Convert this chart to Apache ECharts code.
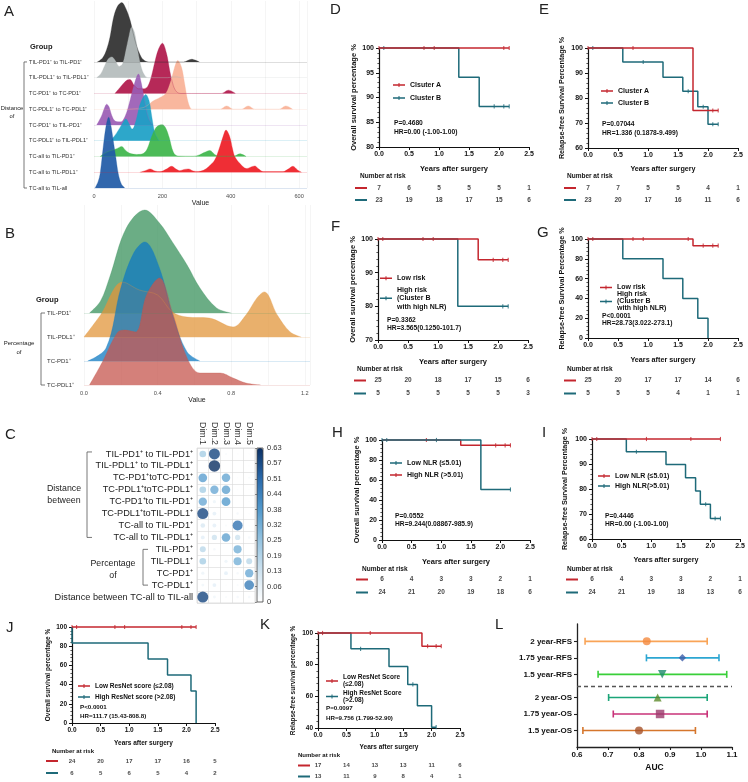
<!DOCTYPE html>
<html>
<head>
<meta charset="utf-8">
<script src="https://cdn.jsdelivr.net/npm/echarts@6.0.0/dist/echarts.min.js"></script>
<style>
  html, body { margin: 0; padding: 0; background: #fff; }
  #chart { width: 748px; height: 782px; }
</style>
</head>
<body>
<div id="chart"></div>
<script>
// ---------- A: distance ridgelines, [value, height in row units] ----------
const aGroups = ['TC-all to TIL-all', 'TC-all to TIL-PDL1⁺', 'TC-all to TIL-PD1⁺', 'TC-PDL1⁺ to TIL-PDL1⁺',
  'TC-PD1⁺ to TIL-PD1⁺', 'TC-PDL1⁺ to TC-PDL1⁺', 'TC-PD1⁺ to TC-PD1⁺', 'TIL-PDL1⁺ to TIL-PDL1⁺', 'TIL-PD1⁺ to TIL-PD1⁺'];
const aTicks = [0, 200, 400, 600];
const aTickLabels = ['0', '200', '400', '600'];
const aTcAllTilAll = [[3,0],[12,0.4],[18,0.91],[27,2.6],[35,3.9],[43,4.49],[50,3.9],[56,3.04],[64,1.9],[71,0.91],[80,0.25],[90,0]];
const aTcAllTilPdl1 = [[134,0],[150,0.1],[164,0.21],[178,0.08],[193,0.04],[212,0.2],[227,0.38],[240,0.2],[251,0.1],[264,0.18],[276,0.21],[290,0.08],[305,0.05],[320,0.12],[335,0.35],[353,0.77],[368,1.62],[378,2.3],[386,2.68],[397,2.26],[405,1.5],[412,0.98],[427,0.55],[446,0.23],[458,0.32],[470,0.4],[482,0.2],[495,0.04],[553,0.04],[568,0.2],[582,0.38],[595,0.15],[607,0]];
const aTcAllTilPd1 = [[18,0],[35,0.25],[50,0.38],[66,0.49],[81,0.64],[92,0.4],[105,0.2],[125,0.13],[145,0.2],[156,0.5],[168,1.23],[180,1.8],[190,1.98],[200,2.02],[210,1.8],[220,1.2],[232,0.28],[245,0.03],[290,0.02],[308,0.1],[322,0.25],[339,0.38],[352,0.15],[365,0.02],[408,0.02],[427,0.17],[445,0]];
const aTcPdl1TilPdl1 = [[47,0],[60,0.3],[75,0.8],[86,1.2],[93,1.38],[102,1.1],[112,0.74],[122,1.2],[133,2.2],[144,2.77],[151,2.94],[161,2.55],[170,1.4],[178,0.5],[190,0]];
const aTcPd1TilPd1 = [[8,0],[22,0.57],[30,1.05],[37,1.32],[44,1.15],[52,0.6],[62,0.25],[78,0.2],[92,0.6],[105,1.53],[118,2.6],[130,3.23],[139,2.6],[150,1.3],[160,0.4],[172,0]];
const aTcPdl1TcPdl1 = [[95,0],[120,0.04],[144,0.1],[160,0.3],[173,0.53],[193,0.74],[210,1.0],[225,1.8],[235,2.6],[245,3.09],[256,2.66],[266,1.5],[276,0.4],[288,0],[368,0],[388,0.21],[408,0],[431,0],[451,0.21],[471,0],[541,0],[561,0.21],[581,0]];
const aTcPd1TcPd1 = [[61,0],[75,0.35],[86,0.64],[97,0.85],[105,0.89],[118,0.5],[130,0.3],[145,0.3],[157,0.45],[168,1.1],[178,2.0],[188,2.77],[200,3.19],[212,2.55],[222,1.4],[232,0.5],[242,0.1],[255,0],[372,0],[393,0.21],[414,0]];
const aTilPdl1TilPdl1 = [[8,0],[20,0.25],[30,0.7],[42,1.2],[52,1.32],[62,1.1],[74,0.72],[84,0.9],[95,1.9],[103,2.7],[110,3.21],[118,2.9],[128,1.7],[139,0.6],[150,0.1],[160,0],[215,0],[235,0.1],[255,0]];
const aTilPd1TilPd1 = [[10,0],[25,0.25],[37,0.79],[47,1.6],[56,2.7],[68,3.5],[81,3.77],[93,3.4],[105,2.7],[115,1.8],[125,1.0],[135,0.45],[144,0.15],[160,0],[262,0],[285,0.17],[308,0]];
const aRidges = [aTcAllTilAll, aTcAllTilPdl1, aTcAllTilPd1, aTcPdl1TilPdl1, aTcPd1TilPd1, aTcPdl1TcPdl1, aTcPd1TcPd1, aTilPdl1TilPdl1, aTilPd1TilPd1];

// ---------- B: percentage ridgelines ----------
const bGroups = ['TC-PDL1⁺', 'TC-PD1⁺', 'TIL-PDL1⁺', 'TIL-PD1⁺'];
const bTicks = [0, 0.4, 0.8, 1.2];
const bTickLabels = ['0.0', '0.4', '0.8', '1.2'];
const bTcPdl1 = [[0.03,0],[0.1,0.96],[0.18,2.17],[0.22,2.29],[0.28,2.21],[0.34,3.75],[0.41,4.46],[0.48,3.04],[0.56,1.13],[0.63,0.5],[0.74,0.5],[0.81,0.29],[0.88,0.08],[0.96,0]];
const bTcPd1 = [[0.02,0],[0.12,0.54],[0.2,3.04],[0.27,4.5],[0.33,4.96],[0.41,3.88],[0.48,1.92],[0.56,0.38],[0.63,0]];
const bTilPdl1 = [[0,0],[0.09,0.92],[0.21,2.29],[0.3,1.96],[0.4,1.75],[0.48,1.04],[0.56,0.83],[0.68,0.79],[0.81,0.42],[0.88,0.92],[0.94,1.63],[0.98,1.88],[1.05,0.92],[1.12,0.21],[1.18,0]];
const bTilPd1 = [[0.03,0],[0.09,0.5],[0.14,1.5],[0.23,3.54],[0.33,4.29],[0.41,3.75],[0.48,2.96],[0.56,2.0],[0.63,1.04],[0.72,0.21],[0.8,0]];
const bRidges = [bTcPdl1, bTcPd1, bTilPdl1, bTilPd1];

// ---------- C: dimension contributions ----------
const cDims = ['Dim.1', 'Dim.2', 'Dim.3', 'Dim.4', 'Dim.5'];
const cRows = ['TIL-PD1⁺ to TIL-PD1⁺', 'TIL-PDL1⁺ to TIL-PDL1⁺', 'TC-PD1⁺toTC-PD1⁺', 'TC-PDL1⁺toTC-PDL1⁺',
  'TC-PD1⁺to TIL-PD1⁺', 'TC-PDL1⁺toTIL-PDL1⁺', 'TC-all to TIL-PD1⁺', 'TC-all to TIL-PDL1⁺',
  'TIL-PD1⁺', 'TIL-PDL1⁺', 'TC-PD1⁺', 'TC-PDL1⁺', 'Distance between TC-all to TIL-all'];
const cValues = [
  [0.21, 0.58, 0.02, 0.01, 0.01],
  [0.00, 0.63, 0.00, 0.00, 0.01],
  [0.36, 0.00, 0.34, 0.01, 0.02],
  [0.21, 0.33, 0.35, 0.01, 0.01],
  [0.33, 0.05, 0.37, 0.00, 0.01],
  [0.58, 0.07, 0.00, 0.03, 0.01],
  [0.10, 0.07, 0.02, 0.48, 0.01],
  [0.07, 0.13, 0.35, 0.13, 0.03],
  [0.17, 0.03, 0.00, 0.31, 0.00],
  [0.21, 0.00, 0.05, 0.31, 0.17],
  [0.05, 0.00, 0.07, 0.03, 0.33],
  [0.04, 0.07, 0.01, 0.02, 0.45],
  [0.58, 0.04, 0.02, 0.03, 0.03]
];
const cbarTicks = ['0', '0.06', '0.13', '0.19', '0.25', '0.32', '0.38', '0.44', '0.51', '0.57', '0.63'];

// ---------- D-K: Kaplan-Meier steps [years, %], censor times, numbers at risk ----------
const riskTimes = [0, 0.5, 1, 1.5, 2, 2.5];

const dRedSteps = [[0,100],[2.17,100]];
const dRedCens = [0, 0.75, 0.92, 2.08, 2.17];
const dTealSteps = [[0,100],[1.33,94.1],[1.67,88.2],[2.17,88.2]];
const dTealCens = [0.08, 1.92, 2.08, 2.17];
const dRiskRed = [7, 6, 5, 5, 5, 1];
const dRiskTeal = [23, 19, 18, 17, 15, 6];

const eRedSteps = [[0,100],[1.75,75],[2.17,75]];
const eRedCens = [0, 0.75, 2.08, 2.17];
const eTealSteps = [[0,100],[0.58,94.4],[1.25,88.3],[1.58,82.7],[1.83,76.5],[2.0,69.5],[2.17,69.5]];
const eTealCens = [0.08, 0.92, 1.67, 1.92, 2.08, 2.17];
const eRiskRed = [7, 7, 5, 5, 4, 1];
const eRiskTeal = [23, 20, 17, 16, 11, 6];

const fRedSteps = [[0,100],[1.67,93.8],[2.17,93.8]];
const fRedCens = [0, 0.08, 0.75, 0.92, 1.92, 2.08, 2.17];
const fTealSteps = [[0,100],[1.33,80],[2.17,80]];
const fTealCens = [2.08, 2.17];
const fRiskRed = [25, 20, 18, 17, 15, 6];
const fRiskTeal = [5, 5, 5, 5, 5, 3];

const gRedSteps = [[0,100],[1.75,93.3],[2.17,93.3]];
const gRedCens = [0, 0.08, 0.75, 0.92, 1.67, 1.92, 2.08, 2.17];
const gTealSteps = [[0,100],[0.58,80],[1.25,60],[1.58,40],[1.83,20],[2.0,0]];
const gTealCens = [];
const gRiskRed = [25, 20, 17, 17, 14, 6];
const gRiskTeal = [5, 5, 5, 4, 1, 1];

const hRedSteps = [[0,100],[1.33,94.7],[2.17,94.7]];
const hRedCens = [0.75, 1.92, 2.08, 2.17];
const hTealSteps = [[0,100],[1.67,50.5],[2.17,50.5]];
const hTealCens = [0, 0.08, 0.92, 2.17];
const hRiskRed = [6, 4, 3, 3, 2, 1];
const hRiskTeal = [24, 21, 20, 19, 18, 6];

const iRedSteps = [[0,100],[2.17,100]];
const iRedCens = [0, 0.08, 0.92, 1.67, 2.17];
const iTealSteps = [[0,100],[0.58,94.9],[1.25,89.8],[1.58,84.5],[1.75,79.2],[1.83,73.9],[2.0,68.2],[2.17,68.2]];
const iTealCens = [0.75, 1.92, 2.08, 2.17];
const iRiskRed = [6, 4, 3, 3, 2, 1];
const iRiskTeal = [24, 21, 19, 18, 13, 6];

const jRedSteps = [[0,100],[2.17,100]];
const jRedCens = [0, 0.08, 0.75, 0.92, 1.92, 2.08, 2.17];
const jTealSteps = [[0,100],[0,83.3],[1.33,66.7],[1.67,50],[2.08,33.3],[2.17,0]];
const jTealCens = [];
const jRiskRed = [24, 20, 17, 17, 16, 5];
const jRiskTeal = [6, 5, 6, 5, 4, 2];

const kRedSteps = [[0,100],[1.83,91.7],[2.17,91.7]];
const kRedCens = [0, 0.08, 0.92, 1.93, 2.08, 2.17];
const kTealSteps = [[0,100],[0.58,90],[1.25,78.8],[1.58,67.5],[1.75,54],[2.0,40.5],[2.08,40.5]];
const kTealCens = [0.75, 1.67, 2.08];
const kRiskRed = [17, 14, 13, 13, 11, 6];
const kRiskTeal = [13, 11, 9, 8, 4, 1];

// ---------- L: AUC with 95% CI (bottom to top) ----------
const lLabels = ['1.5 year-OS', '1.75 year-OS', '2 year-OS', '1.5 year-RFS', '1.75 year-RFS', '2 year-RFS'];
const lAuc = [0.800, 0.868, 0.860, 0.875, 0.940, 0.825];
const lLower = [0.619, 0.717, 0.702, 0.668, 0.824, 0.626];
const lUpper = [0.982, 1.020, 1.020, 1.083, 1.058, 1.020];

// ---------- styles ----------
const FF = '"Liberation Sans", Arial, sans-serif';
const RED = '#c4262e';
const TEAL = '#1e6a79';
const LEG_ICON = 'path://M0,2.4H24V5.6H0Z M11,0H13V8H11Z';
const aColors = ['#1f5aa6', '#ee1c24', '#3db54a', '#1b9fc6', '#9a5cb4', '#f9b196', '#b0174a', '#b4bcbc', '#2e2e2e'];
const bColors = ['#c6564e', '#0f7ac1', '#e1953b', '#39915c'];
const lLineColors = ['#d5762c', '#c93279', '#1ba578', '#39cf39', '#2ca6d2', '#f9a457'];
const lMarkColors = ['#a6522a', '#9b3a6b', '#5d8a2b', '#1e8a6c', '#3d5ea9', '#f48a3e'];
const lSymbols = ['circle', 'rect', 'triangle', 'triangle', 'diamond', 'circle'];
const lRotate = [0, 0, 0, 180, 0, 0];
const lSizes = [8, 8.5, 8, 8.5, 7.5, 8];

const grids = [], xAxes = [], yAxes = [], series = [], legends = [];
const legendText = {};
const kmTexts = [];

function survAt(steps, t) {
  let s = steps[0][1];
  steps.forEach(p => { if (p[0] <= t + 1e-9) s = p[1]; });
  return s;
}

function ridgePanel(p) {
  const gi = grids.length;
  grids.push({left: p.left, top: p.top, width: p.width, height: p.height, outerBoundsMode: 'none'});
  xAxes.push({
    gridIndex: gi, type: 'value', min: 0, max: p.xMax, interval: p.xStep,
    axisLine: {show: false}, axisTick: {show: false},
    splitLine: {show: true, lineStyle: {color: '#efefef', width: 0.6}},
    axisLabel: {fontSize: 5.6, color: '#4d4d4d', margin: 5, fontFamily: FF,
      formatter: v => { const k = p.ticks.findIndex(t => Math.abs(t - v) < 1e-6); return k < 0 ? '' : p.tickLabels[k]; }},
    name: 'Value', nameLocation: 'middle', nameGap: p.nameGap,
    nameTextStyle: {fontSize: 7, color: '#222', fontFamily: FF}
  });
  yAxes.push({
    gridIndex: gi, type: 'value', min: 0, max: p.yMax, interval: 1,
    axisLine: {show: false}, axisTick: {show: false}, splitLine: {show: false},
    axisLabel: {align: 'left', margin: p.labelMargin, fontSize: p.labelSize, color: '#333', fontFamily: FF,
      formatter: v => p.groups[v] || ''}
  });
  for (let r = p.ridges.length - 1; r >= 0; r--) {
    const col = p.colors[r];
    series.push({
      type: 'line', xAxisIndex: gi, yAxisIndex: gi, smooth: 0.35, symbol: 'none', silent: true,
      data: p.ridges[r].map(d => [d[0], r + d[1]]),
      lineStyle: {color: col, width: 0.5, opacity: 0.6},
      areaStyle: {color: col, opacity: p.opacity, origin: r},
      markLine: {silent: true, symbol: 'none', label: {show: false},
        lineStyle: {color: col, opacity: 0.2, width: 0.8, type: 'solid'}, data: [{yAxis: r}]}
    });
  }
}

function kmPanel(p) {
  const fs = p.font;
  const gi = grids.length;
  const nameStyle = {fontSize: p.nameSize, fontWeight: 'bold', color: '#111', fontFamily: FF};
  grids.push({left: p.x, top: p.y, width: p.w, height: p.h, outerBoundsMode: 'none'});
  xAxes.push({
    gridIndex: gi, type: 'value', min: 0, max: 2.5, interval: 0.5,
    name: 'Years after surgery', nameLocation: 'middle', nameGap: p.xNameGap, nameTextStyle: nameStyle,
    axisLine: {show: true, lineStyle: {color: '#111', width: 1.2}},
    axisTick: {show: true, length: 3, lineStyle: {color: '#111', width: 1}},
    axisLabel: {fontSize: fs, fontWeight: 'bold', color: '#111', margin: 4, fontFamily: FF, formatter: v => v.toFixed(1)},
    splitLine: {show: false}
  });
  yAxes.push({
    gridIndex: gi, type: 'value', min: p.yMin, max: 100, interval: p.yStep,
    name: p.yName, nameLocation: 'middle', nameRotate: 90, nameGap: p.yNameGap, nameTextStyle: nameStyle,
    axisLine: {show: true, lineStyle: {color: '#111', width: 1.2}},
    axisTick: {show: true, length: 3, lineStyle: {color: '#111', width: 1}},
    minorTick: {show: true, splitNumber: 5, length: 1.6, lineStyle: {color: '#111', width: 0.7}},
    axisLabel: {fontSize: fs, fontWeight: 'bold', color: '#111', margin: 5, fontFamily: FF},
    splitLine: {show: false}, minorSplitLine: {show: false}
  });
  const legendData = [];
  p.curves.forEach((c, k) => {
    const id = p.id + k;
    legendText[id] = c.label;
    legendData[c.order] = id;
    series.push({
      name: id, type: 'line', xAxisIndex: gi, yAxisIndex: gi, step: 'end', symbol: 'none',
      clip: false, silent: true, data: c.steps,
      lineStyle: {color: c.color, width: 1.5}, itemStyle: {color: c.color}
    });
    series.push({
      type: 'scatter', xAxisIndex: gi, yAxisIndex: gi, symbol: 'rect', symbolSize: [1.1, 4.2],
      clip: false, silent: true, itemStyle: {color: c.color},
      data: c.cens.map(t => [t, survAt(c.steps, t)])
    });
  });
  legends.push({
    left: p.leg.x, top: p.leg.y, orient: 'vertical', padding: 0, itemGap: p.leg.gap,
    itemWidth: 12, itemHeight: 6, icon: LEG_ICON, selectedMode: false, data: legendData,
    formatter: name => legendText[name],
    textStyle: {fontSize: fs, fontWeight: 'bold', color: '#111', fontFamily: FF, lineHeight: p.leg.lh}
  });
  // numbers at risk, sharing the time scale
  const ri = grids.length;
  grids.push({left: p.x, top: p.risk.top, width: p.w, height: p.risk.h, outerBoundsMode: 'none'});
  xAxes.push({gridIndex: ri, type: 'value', min: 0, max: 2.5, show: false});
  yAxes.push({
    gridIndex: ri, type: 'category', inverse: true, data: ['r0', 'r1'],
    axisLine: {show: false}, axisTick: {show: false}, splitLine: {show: false},
    axisLabel: {margin: p.risk.dash, interval: 0, formatter: (v, i) => '{d' + i + '| }',
      rich: {
        d0: {backgroundColor: RED, width: 12, height: 2, lineHeight: 2, fontSize: 1},
        d1: {backgroundColor: TEAL, width: 12, height: 2, lineHeight: 2, fontSize: 1}
      }}
  });
  p.risk.rows.forEach((arr, row) => {
    series.push({
      type: 'scatter', xAxisIndex: ri, yAxisIndex: ri, symbolSize: 1, silent: true,
      itemStyle: {color: 'rgba(0,0,0,0)'},
      data: riskTimes.map((t, k) => [t, row, arr[k]]),
      label: {show: true, position: 'inside', formatter: q => String(q.value[2]),
        fontSize: p.riskFont, fontWeight: 'bold', color: '#111', fontFamily: FF}
    });
  });
  kmTexts.push({x: p.nar[0], y: p.nar[1], text: 'Number at risk', size: p.riskFont});
  p.stats.forEach(s => kmTexts.push({x: s[0], y: s[1], text: s[2], size: fs - 0.3}));
}

// A and B
ridgePanel({left: 94, top: 1, width: 213, height: 187, xMax: 623, xStep: 100, yMax: 11.87,
  ticks: aTicks, tickLabels: aTickLabels, groups: aGroups, ridges: aRidges, colors: aColors,
  opacity: 0.92, labelMargin: 65, labelSize: 5.6, nameGap: 10});
ridgePanel({left: 84, top: 205, width: 226, height: 180, xMax: 1.228, xStep: 0.2, yMax: 7.5,
  ticks: bTicks, tickLabels: bTickLabels, groups: bGroups, ridges: bRidges, colors: bColors,
  opacity: 0.75, labelMargin: 37, labelSize: 6, nameGap: 9});

// C: dot matrix (grid 2) and colour-bar scale (grid 3)
grids.push({left: 197, top: 448, width: 58, height: 155, show: true, borderColor: '#cfcfcf', borderWidth: 0.6, outerBoundsMode: 'none'});
xAxes.push({gridIndex: 2, type: 'category', data: cDims, position: 'top',
  axisLine: {show: false}, axisTick: {show: false},
  splitLine: {show: true, lineStyle: {color: '#d9d9d9', width: 0.6}},
  axisLabel: {rotate: 90, interval: 0, fontSize: 8.8, color: '#333', margin: 3, fontFamily: FF}});
yAxes.push({gridIndex: 2, type: 'category', data: cRows, inverse: true,
  axisLine: {show: false}, axisTick: {show: false},
  splitLine: {show: true, lineStyle: {color: '#d9d9d9', width: 0.6}},
  axisLabel: {interval: 0, fontSize: 9.2, color: '#222', margin: 4, fontFamily: FF}});
const cData = [];
cValues.forEach((row, r) => row.forEach((v, c) => { if (v > 0) cData.push([c, r, v]); }));
const cSeriesIndex = series.length;
series.push({type: 'scatter', xAxisIndex: 2, yAxisIndex: 2, silent: true, data: cData,
  symbolSize: d => 11.5 * Math.sqrt(d[2] / 0.63)});

grids.push({left: 257, top: 448, width: 6, height: 154, show: true, borderColor: '#444', borderWidth: 0.8,
  backgroundColor: 'transparent', z: 10, outerBoundsMode: 'none'});
xAxes.push({gridIndex: 3, type: 'value', min: 0, max: 1, show: false});
yAxes.push({gridIndex: 3, type: 'value', min: 0, max: 0.63, interval: 0.063, position: 'right',
  axisLine: {show: false}, splitLine: {show: false},
  axisTick: {show: true, inside: true, length: 2, lineStyle: {color: '#444', width: 0.6}},
  axisLabel: {fontSize: 7.5, color: '#333', margin: 4, fontFamily: FF,
    formatter: v => cbarTicks[Math.round(v / 0.063)] || ''}});

// D-K
kmPanel({id: 'D', x: 379, y: 48, w: 150, h: 99, yMin: 80, yStep: 5, yName: 'Overall survival percentage %',
  nameSize: 7.5, font: 7, yNameGap: 20, xNameGap: 18,
  curves: [
    {steps: dTealSteps, cens: dTealCens, color: TEAL, label: 'Cluster B', order: 1},
    {steps: dRedSteps, cens: dRedCens, color: RED, label: 'Clsuter A', order: 0}],
  leg: {x: 393, y: 81, gap: 5, lh: 8},
  risk: {top: 182, h: 24, dash: 12, rows: [dRiskRed, dRiskTeal]}, riskFont: 6.5,
  nar: [360, 176], stats: [[394, 123, 'P=0.4680'], [394, 132, 'HR=0.00 (-1.00-1.00)']]});

kmPanel({id: 'E', x: 588, y: 48, w: 150, h: 100, yMin: 60, yStep: 10, yName: 'Relapse-free Survival Percentage %',
  nameSize: 7.2, font: 7, yNameGap: 22, xNameGap: 18,
  curves: [
    {steps: eTealSteps, cens: eTealCens, color: TEAL, label: 'Cluster B', order: 1},
    {steps: eRedSteps, cens: eRedCens, color: RED, label: 'Cluster A', order: 0}],
  leg: {x: 601, y: 87, gap: 4, lh: 8},
  risk: {top: 182, h: 24, dash: 12, rows: [eRiskRed, eRiskTeal]}, riskFont: 6.5,
  nar: [567, 176], stats: [[602, 124, 'P=0.07044'], [602, 133, 'HR=1.336 (0.1878-9.499)']]});

kmPanel({id: 'F', x: 378, y: 239, w: 150, h: 101, yMin: 70, yStep: 10, yName: 'Overall survival percentage %',
  nameSize: 7.5, font: 7, yNameGap: 19, xNameGap: 18,
  curves: [
    {steps: fTealSteps, cens: fTealCens, color: TEAL, label: 'High risk\n(Cluster B\nwith high NLR)', order: 1},
    {steps: fRedSteps, cens: fRedCens, color: RED, label: 'Low risk', order: 0}],
  leg: {x: 380, y: 274, gap: 3, lh: 8.5},
  risk: {top: 374, h: 26, dash: 12, rows: [fRiskRed, fRiskTeal]}, riskFont: 6.5,
  nar: [357, 369], stats: [[387, 320, 'P=0.3362'], [387, 328, 'HR=3.565(0.1250-101.7)']]});

kmPanel({id: 'G', x: 588, y: 239, w: 150, h: 99, yMin: 0, yStep: 20, yName: 'Relapse-free Survival Percentage %',
  nameSize: 7.2, font: 7, yNameGap: 22, xNameGap: 19,
  curves: [
    {steps: gTealSteps, cens: gTealCens, color: TEAL, label: 'High risk\n(Cluster B\nwith high NLR)', order: 1},
    {steps: gRedSteps, cens: gRedCens, color: RED, label: 'Low risk', order: 0}],
  leg: {x: 600, y: 284, gap: 0, lh: 7},
  risk: {top: 374, h: 26, dash: 12, rows: [gRiskRed, gRiskTeal]}, riskFont: 6.5,
  nar: [567, 369], stats: [[602, 316, 'P<0.0001'], [602, 323, 'HR=28.73(3.022-273.1)']]});

kmPanel({id: 'H', x: 382, y: 440, w: 148, h: 100, yMin: 0, yStep: 20, yName: 'Overall survival percentage %',
  nameSize: 7.5, font: 7, yNameGap: 21, xNameGap: 18,
  curves: [
    {steps: hRedSteps, cens: hRedCens, color: RED, label: 'High NLR (>5.01)', order: 1},
    {steps: hTealSteps, cens: hTealCens, color: TEAL, label: 'Low NLR (≤5.01)', order: 0}],
  leg: {x: 390, y: 459, gap: 4, lh: 8},
  risk: {top: 573, h: 26, dash: 14, rows: [hRiskRed, hRiskTeal]}, riskFont: 6.5,
  nar: [362, 569], stats: [[395, 516, 'P=0.0552'], [395, 524, 'HR=9.244(0.08867-985.9)']]});

kmPanel({id: 'I', x: 592, y: 439, w: 148, h: 100, yMin: 60, yStep: 10, yName: 'Relapse-free Survival Percentage %',
  nameSize: 7.2, font: 7, yNameGap: 23, xNameGap: 18,
  curves: [
    {steps: iTealSteps, cens: iTealCens, color: TEAL, label: 'High NLR(>5.01)', order: 1},
    {steps: iRedSteps, cens: iRedCens, color: RED, label: 'Low NLR (≤5.01)', order: 0}],
  leg: {x: 598, y: 472, gap: 2, lh: 8},
  risk: {top: 573, h: 26, dash: 14, rows: [iRiskRed, iRiskTeal]}, riskFont: 6.5,
  nar: [567, 569], stats: [[605, 516, 'P=0.4446'], [605, 524, 'HR=0.00 (-1.00-1.00)']]});

kmPanel({id: 'J', x: 72, y: 627, w: 143, h: 96, yMin: 0, yStep: 20, yName: 'Overall survival percentage %',
  nameSize: 6.5, font: 6.5, yNameGap: 20, xNameGap: 17,
  curves: [
    {steps: jTealSteps, cens: jTealCens, color: TEAL, label: 'High ResNet score (>2.08)', order: 1},
    {steps: jRedSteps, cens: jRedCens, color: RED, label: 'Low ResNet score (≤2.08)', order: 0}],
  leg: {x: 78, y: 682, gap: 3, lh: 8},
  risk: {top: 755, h: 24, dash: 14, rows: [jRiskRed, jRiskTeal]}, riskFont: 6,
  nar: [52, 751], stats: [[80, 707, 'P<0.0001'], [80, 716, 'HR=111.7 (15.43-808.8)']]});

kmPanel({id: 'K', x: 318, y: 633, w: 142, h: 95, yMin: 40, yStep: 20, yName: 'Relapse-free survival percentage %',
  nameSize: 6.5, font: 6.5, yNameGap: 21, xNameGap: 16,
  curves: [
    {steps: kTealSteps, cens: kTealCens, color: TEAL, label: 'High ResNet Score\n(>2.08)', order: 1},
    {steps: kRedSteps, cens: kRedCens, color: RED, label: 'Low ResNet Score\n(≤2.08)', order: 0}],
  leg: {x: 326, y: 674, gap: 1.5, lh: 7},
  risk: {top: 760, h: 22, dash: 8, rows: [kRiskRed, kRiskTeal]}, riskFont: 6,
  nar: [298, 755], stats: [[326, 708, 'P=0.0097'], [326, 718, 'HR=9.756 (1.799-52.90)']]});

// L: forest plot of AUCs
const lPos = lLabels.map((_, i) => i + 1 + (i >= 3 ? 0.4 : 0));
const li = grids.length;
grids.push({left: 577, top: 624, width: 155, height: 123, outerBoundsMode: 'none'});
xAxes.push({gridIndex: li, type: 'value', min: 0.6, max: 1.1, interval: 0.1,
  name: 'AUC', nameLocation: 'middle', nameGap: 16,
  nameTextStyle: {fontSize: 8.5, fontWeight: 'bold', color: '#111', fontFamily: FF},
  axisLine: {show: true, lineStyle: {color: '#222', width: 1.3}},
  axisTick: {show: true, length: 3, lineStyle: {color: '#222', width: 1.1}},
  axisLabel: {fontSize: 8, fontWeight: 'bold', color: '#111', margin: 4, fontFamily: FF, formatter: v => v.toFixed(1)},
  splitLine: {show: false}});
yAxes.push({gridIndex: li, type: 'value', min: 0, max: 7.45,
  axisLine: {show: true, lineStyle: {color: '#222', width: 1.3}},
  axisTick: {show: true, length: 3, customValues: lPos, lineStyle: {color: '#222', width: 1.1}},
  axisLabel: {customValues: lPos, fontSize: 8, fontWeight: 'bold', color: '#111', margin: 5, fontFamily: FF,
    formatter: v => { const k = lPos.findIndex(p => Math.abs(p - v) < 1e-6); return k < 0 ? '' : lLabels[k]; }},
  splitLine: {show: false}});
series.push({
  type: 'custom', xAxisIndex: li, yAxisIndex: li, silent: true,
  data: lLabels.map((_, i) => [lLower[i], lUpper[i], lPos[i], i]),
  encode: {x: [0, 1], y: 2},
  renderItem: (params, api) => {
    const y = api.value(2);
    const a = api.coord([api.value(0), y]);
    const b = api.coord([api.value(1), y]);
    const st = {stroke: lLineColors[api.value(3)], lineWidth: 1.6};
    return {type: 'group', children: [
      {type: 'line', shape: {x1: a[0], y1: a[1], x2: b[0], y2: b[1]}, style: st},
      {type: 'line', shape: {x1: a[0], y1: a[1] - 3.5, x2: a[0], y2: a[1] + 3.5}, style: st},
      {type: 'line', shape: {x1: b[0], y1: b[1] - 3.5, x2: b[0], y2: b[1] + 3.5}, style: st}
    ]};
  }
});
series.push({
  type: 'scatter', xAxisIndex: li, yAxisIndex: li, silent: true, z: 5,
  data: lAuc.map((v, i) => ({value: [v, lPos[i]], symbol: lSymbols[i], symbolSize: lSizes[i],
    symbolRotate: lRotate[i], itemStyle: {color: lMarkColors[i]}})),
  markLine: {silent: true, symbol: 'none', label: {show: false},
    lineStyle: {type: [4, 3], color: '#555', width: 1.3}, data: [{yAxis: 3.7}]}
});

const chart = echarts.init(document.getElementById('chart'), null, {renderer: 'canvas'});
chart.setOption({
  animation: false,
  backgroundColor: '#ffffff',
  textStyle: {fontFamily: FF},
  grid: grids, xAxis: xAxes, yAxis: yAxes, legend: legends, series: series,
  visualMap: [{
    type: 'continuous', seriesIndex: cSeriesIndex, dimension: 2, min: 0, max: 0.63,
    left: 257, top: 448, itemWidth: 6, itemHeight: 154, padding: 0,
    calculable: false, hoverLink: false, text: null, orient: 'vertical',
    inRange: {color: ['#ffffff', '#cfe3f0', '#95c3e0', '#5299cc', '#2a6aab', '#0b2f63']}
  }]
});

// annotations: panel letters, group brackets, texts
const gfx = [];
const T = (x, y, text, size, bold, extra) => gfx.push({type: 'text', x: x, y: y, silent: true, z: 100,
  style: Object.assign({text: text, font: (bold ? 'bold ' : '') + size + 'px ' + FF, fill: '#1a1a1a',
    align: 'left', verticalAlign: 'middle'}, extra || {})});
const bracket = (x, y1, y2, w) => gfx.push({type: 'polyline', silent: true, z: 100,
  shape: {points: [[x + w, y1], [x, y1], [x, y2], [x + w, y2]]},
  style: {stroke: '#555', lineWidth: 0.8, fill: 'none'}});
const rowY = (axis, v) => chart.convertToPixel({yAxisIndex: axis}, v);

[['A', 4, 12], ['B', 5, 234], ['C', 5, 435], ['D', 330, 10], ['E', 539, 10], ['F', 331, 227],
 ['G', 537, 233], ['H', 332, 433], ['I', 542, 433], ['J', 6, 628], ['K', 260, 625], ['L', 495, 625]]
  .forEach(l => T(l[1], l[2], l[0], 15, false, {fill: '#222'}));

T(30, 47, 'Group', 7.5, true);
bracket(24, rowY(0, aGroups.length - 1), rowY(0, 0), 3);
T(12, 108, 'Distance', 5.8, false, {align: 'center'});
T(12, 116, 'of', 5.8, false, {align: 'center'});

T(36, 300, 'Group', 7.5, true);
bracket(41, rowY(1, bGroups.length - 1), rowY(1, 0), 4);
T(19, 343, 'Percentage', 6, false, {align: 'center'});
T(19, 352, 'of', 6, false, {align: 'center'});

const cTop = rowY(2, 0), cDistEnd = rowY(2, 7), cPctTop = rowY(2, 8), cPctEnd = rowY(2, 11);
bracket(87, cTop - 2, cDistEnd, 5);
bracket(143, cPctTop, cPctEnd, 5);
T(64, (cTop + cDistEnd) / 2 - 7, 'Distance', 8.8, false, {align: 'center', fill: '#222'});
T(64, (cTop + cDistEnd) / 2 + 5, 'between', 8.8, false, {align: 'center', fill: '#222'});
T(113, (cPctTop + cPctEnd) / 2 - 3.5, 'Percentage', 8.8, false, {align: 'center', fill: '#222'});
T(113, (cPctTop + cPctEnd) / 2 + 8.5, 'of', 8.8, false, {align: 'center', fill: '#222'});

kmTexts.forEach(t => T(t.x, t.y, t.text, t.size, true, {fill: '#111'}));

chart.setOption({graphic: gfx});
</script>
</body>
</html>
